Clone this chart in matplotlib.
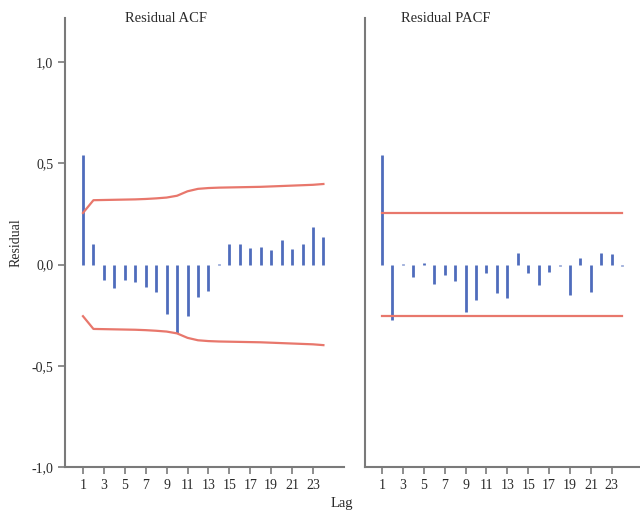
import matplotlib
matplotlib.use("Agg")
import matplotlib.pyplot as plt
import numpy as np

lags = list(range(1, 25))
acf = [0.54, 0.10, -0.075, -0.115, -0.078, -0.086, -0.11, -0.135, -0.246, -0.338,
       -0.256, -0.16, -0.13, 0.004, 0.10, 0.10, 0.083, 0.087, 0.07, 0.12,
       0.078, 0.104, 0.185, 0.135]
acf_upper = [0.255, 0.318, 0.319, 0.320, 0.321, 0.322, 0.324, 0.327, 0.331, 0.340,
             0.362, 0.374, 0.378, 0.380, 0.381, 0.382, 0.383, 0.384, 0.386, 0.388,
             0.390, 0.392, 0.394, 0.398]
pacf = [0.54, -0.272, 0.005, -0.061, 0.01, -0.094, -0.054, -0.079, -0.236, -0.177,
        -0.041, -0.142, -0.167, 0.058, -0.041, -0.102, -0.036, -0.005, -0.152, 0.033,
        -0.137, 0.058, 0.05, -0.005]
pacf_bound = 0.254
xticks = list(range(1, 24, 2))
yticks = [-1.0, -0.5, 0.0, 0.5, 1.0]
ytick_labels = ["-1,0", "-0,5", "0,0", "0,5", "1,0"]

plt.rcParams['font.family'] = ['Liberation Serif', 'DejaVu Serif']
bar_color = "#4f6cbc"
band_color = "#e8776c"
spine_color = "#7a7a7a"
text_color = "#2a2a2a"

fig = plt.figure(figsize=(6.4, 5.12), dpi=100)
ax1 = fig.add_axes([65/640, 1-467/512, (344-65)/640, (467-18)/512])
ax2 = fig.add_axes([365/640, 1-467/512, (640-365)/640, (467-18)/512])

for ax in (ax1, ax2):
    ax.set_ylim(-1.0, 1.218)
    ax.set_xticks(xticks)
    ax.set_xticklabels([str(t) for t in xticks], fontsize=10)
    for s in ("top", "right"):
        ax.spines[s].set_visible(False)
    for s in ("left", "bottom"):
        ax.spines[s].set_color(spine_color)
        ax.spines[s].set_linewidth(1.5)
    ax.tick_params(axis="x", colors=spine_color, labelcolor=text_color, length=5, width=1.2)

ax1.set_xlim(-0.72, 25.97)
ax2.set_xlim(-0.63, 25.7)

ax1.vlines(lags, 0, acf, color=bar_color, linewidth=2)
ax1.plot(lags, acf_upper, color=band_color, linewidth=1.6)
ax1.plot(lags, [-v for v in acf_upper], color=band_color, linewidth=1.6)
ax1.set_yticks(yticks)
ax1.set_yticklabels(ytick_labels, fontsize=10)
ax1.tick_params(axis="y", colors=spine_color, labelcolor=text_color, length=5, width=1.2)
ax1.set_ylabel("Residual", fontsize=10, labelpad=6, color=text_color)
ax1.text(0.215, 1.0, "Residual ACF", transform=ax1.transAxes, fontsize=10.5,
         ha="left", va="center", color=text_color)

ax2.vlines(lags, 0, pacf, color=bar_color, linewidth=2)
ax2.plot([lags[0], lags[-1]], [pacf_bound, pacf_bound], color=band_color, linewidth=1.6)
ax2.plot([lags[0], lags[-1]], [-pacf_bound, -pacf_bound], color=band_color, linewidth=1.6)
ax2.set_yticks([])
ax2.text(0.13, 1.0, "Residual PACF", transform=ax2.transAxes, fontsize=10.5,
         ha="left", va="center", color=text_color)

fig.text(342/640, 1-503/512, "Lag", fontsize=10.5, ha="center", va="center", color=text_color)

fig.savefig("out.png", dpi=100)
